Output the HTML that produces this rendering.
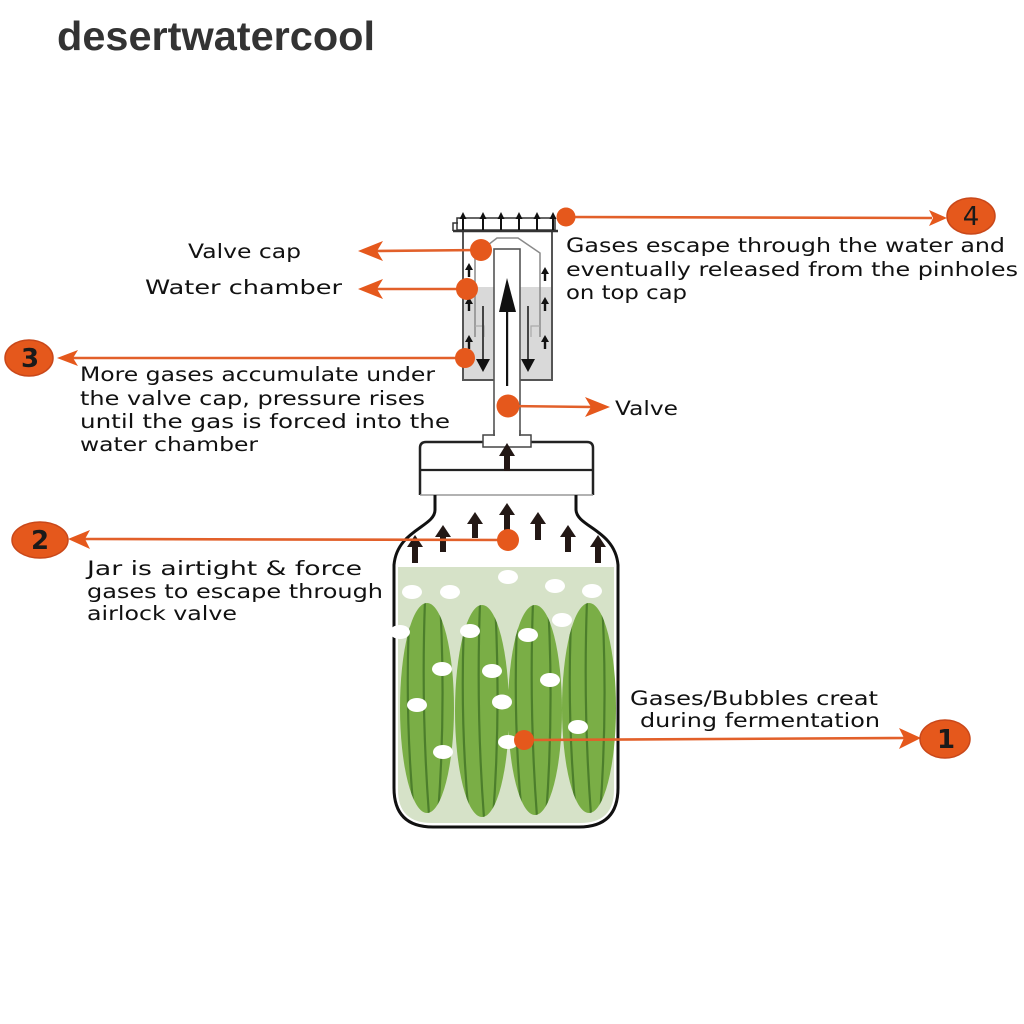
<!DOCTYPE html>
<html><head><meta charset="utf-8"><style>
html,body{margin:0;padding:0;background:#fff;}
svg{display:block;}
text{font-family:"DejaVu Sans","Liberation Sans",sans-serif;}
text.title{font-family:"Liberation Sans","DejaVu Sans",sans-serif;}
</style></head><body>
<svg width="1024" height="1024" viewBox="0 0 1024 1024" xmlns="http://www.w3.org/2000/svg">
<defs>
<clipPath id="c1"><ellipse cx="427" cy="708" rx="27" ry="105"/></clipPath>
<clipPath id="c2"><ellipse cx="482" cy="711" rx="27" ry="106"/></clipPath>
<clipPath id="c3"><ellipse cx="535" cy="710" rx="27" ry="105"/></clipPath>
<clipPath id="c4"><ellipse cx="589" cy="708" rx="27" ry="105"/></clipPath>
</defs>
<rect width="1024" height="1024" fill="#fff"/>

<!-- title -->
<text class="title" x="57" y="50" font-size="41" font-weight="bold" fill="#333" textLength="318" lengthAdjust="spacingAndGlyphs">desertwatercool</text>

<!-- ===== valve chamber ===== -->
<rect x="463" y="231" width="89" height="149" fill="#fff" stroke="#555" stroke-width="2"/>
<rect x="464" y="287" width="87" height="92" fill="#D9D9D9"/>
<path d="M475,337 L475,255 L497,238 L518,238 L540,253 L540,337" fill="none" stroke="#8a8a8a" stroke-width="1.5"/>
<path d="M475,326 L484,326 L484,337 M540,326 L531,326 L531,337" fill="none" stroke="#aaa" stroke-width="1.2"/>
<rect x="457" y="218" width="98" height="12" fill="#fff" stroke="#333" stroke-width="1.5"/>
<path d="M453,231 L558,231" stroke="#333" stroke-width="2.5"/>
<path d="M453,231 L453,223 L458,223" fill="none" stroke="#333" stroke-width="1.5"/>
<g fill="#111">
<g transform="translate(463,0)"><rect x="-1" y="217" width="2" height="13"/><polygon points="0,212 -3.5,219 3.5,219"/></g>
<g transform="translate(483,0)"><rect x="-1" y="217" width="2" height="13"/><polygon points="0,212 -3.5,219 3.5,219"/></g>
<g transform="translate(501,0)"><rect x="-1" y="217" width="2" height="13"/><polygon points="0,212 -3.5,219 3.5,219"/></g>
<g transform="translate(519,0)"><rect x="-1" y="217" width="2" height="13"/><polygon points="0,212 -3.5,219 3.5,219"/></g>
<g transform="translate(537,0)"><rect x="-1" y="217" width="2" height="13"/><polygon points="0,212 -3.5,219 3.5,219"/></g>
<g transform="translate(553,0)"><rect x="-1" y="217" width="2" height="13"/><polygon points="0,212 -3.5,219 3.5,219"/></g>
</g>
<rect x="494" y="249" width="26" height="190" fill="#fff" stroke="#555" stroke-width="1.6"/>
<rect x="506" y="300" width="2.2" height="86" fill="#111"/>
<polygon points="507,278 499,312 516,312" fill="#111"/>
<rect x="482" y="306" width="2" height="56" fill="#444"/>
<polygon points="476,359 490,359 483,372" fill="#111"/>
<rect x="527" y="306" width="2" height="56" fill="#444"/>
<polygon points="521,359 535,359 528,372" fill="#111"/>
<g fill="#111">
<g transform="translate(469,263)"><rect x="-1.2" y="5" width="2.4" height="9"/><polygon points="0,0 -4,7 4,7"/></g>
<g transform="translate(469,297)"><rect x="-1.2" y="5" width="2.4" height="9"/><polygon points="0,0 -4,7 4,7"/></g>
<g transform="translate(469,335)"><rect x="-1.2" y="5" width="2.4" height="9"/><polygon points="0,0 -4,7 4,7"/></g>
<g transform="translate(545,267)"><rect x="-1.2" y="5" width="2.4" height="9"/><polygon points="0,0 -4,7 4,7"/></g>
<g transform="translate(545,297)"><rect x="-1.2" y="5" width="2.4" height="9"/><polygon points="0,0 -4,7 4,7"/></g>
<g transform="translate(545,335)"><rect x="-1.2" y="5" width="2.4" height="9"/><polygon points="0,0 -4,7 4,7"/></g>
</g>

<!-- ===== lid ===== -->
<path d="M420,495 L420,448 Q420,442 426,442 L587,442 Q593,442 593,448 L593,495" fill="#fff" stroke="#222" stroke-width="2.5"/>
<path d="M420,470 L593,470" stroke="#222" stroke-width="2.2"/>
<path d="M420,495 L593,495" stroke="#999" stroke-width="1.5"/>
<rect x="483" y="435" width="48" height="12" fill="#fff" stroke="#444" stroke-width="1.5"/>
<rect x="495" y="430" width="24" height="10" fill="#fff"/>
<path d="M494,430 L494,436 M520,430 L520,436" stroke="#555" stroke-width="1.6"/>
<rect x="504" y="452" width="6" height="19" fill="#231815"/>
<polygon points="507,443 499,456 515,456" fill="#231815"/>

<!-- ===== jar ===== -->
<path d="M398,567 L614,567 L614,790 Q614,823 580,823 L432,823 Q398,823 398,790 Z" fill="#D6E2C8"/>
<path d="M435,495 L435,510 C435,527 397,530 394,565 L394,788 Q394,827 433,827 L579,827 Q618,827 618,788 L618,565 C615,530 577,527 576,510 L576,495" fill="none" stroke="#111" stroke-width="3"/>

<g>
<ellipse cx="427" cy="708" rx="27" ry="105" fill="#7AAE46"/>
<ellipse cx="482" cy="711" rx="27" ry="106" fill="#7AAE46"/>
<ellipse cx="535" cy="710" rx="27" ry="105" fill="#7AAE46"/>
<ellipse cx="589" cy="708" rx="27" ry="105" fill="#7AAE46"/>
<g fill="none" stroke="#4C7E2C" stroke-width="2.2">
<g clip-path="url(#c1)"><path d="M410,600 Q404,708 414,815 M425,600 Q421,708 429,815 M440,600 Q446,708 438,815"/></g>
<g clip-path="url(#c2)"><path d="M465,603 Q459,711 469,818 M480,603 Q476,711 484,818 M495,603 Q501,711 493,818"/></g>
<g clip-path="url(#c3)"><path d="M518,602 Q512,710 522,817 M533,602 Q529,710 537,817 M548,602 Q554,710 546,817"/></g>
<g clip-path="url(#c4)"><path d="M572,600 Q566,708 576,815 M587,600 Q583,708 591,815 M602,600 Q608,708 600,815"/></g>
</g>
</g>

<g fill="#fff">
<ellipse cx="508" cy="577" rx="10" ry="7"/>
<ellipse cx="412" cy="592" rx="10" ry="7"/>
<ellipse cx="450" cy="592" rx="10" ry="7"/>
<ellipse cx="555" cy="586" rx="10" ry="7"/>
<ellipse cx="592" cy="591" rx="10" ry="7"/>
<ellipse cx="400" cy="632" rx="10" ry="7"/>
<ellipse cx="470" cy="631" rx="10" ry="7"/>
<ellipse cx="528" cy="635" rx="10" ry="7"/>
<ellipse cx="562" cy="620" rx="10" ry="7"/>
<ellipse cx="442" cy="669" rx="10" ry="7"/>
<ellipse cx="492" cy="671" rx="10" ry="7"/>
<ellipse cx="550" cy="680" rx="10" ry="7"/>
<ellipse cx="417" cy="705" rx="10" ry="7"/>
<ellipse cx="502" cy="702" rx="10" ry="7.5"/>
<ellipse cx="578" cy="727" rx="10" ry="7"/>
<ellipse cx="443" cy="752" rx="10" ry="7"/>
<ellipse cx="508" cy="742" rx="10" ry="7"/>
</g>

<g fill="#231815">
<g transform="translate(415,535)"><rect x="-3" y="10" width="6" height="18"/><polygon points="0,0 -8,12 8,12"/></g>
<g transform="translate(443,525)"><rect x="-3" y="10" width="6" height="17"/><polygon points="0,0 -8,12 8,12"/></g>
<g transform="translate(475,512)"><rect x="-3" y="10" width="6" height="16"/><polygon points="0,0 -8,12 8,12"/></g>
<g transform="translate(507,503)"><rect x="-3" y="10" width="6" height="20"/><polygon points="0,0 -8,12 8,12"/></g>
<g transform="translate(538,512)"><rect x="-3" y="10" width="6" height="18"/><polygon points="0,0 -8,12 8,12"/></g>
<g transform="translate(568,525)"><rect x="-3" y="10" width="6" height="17"/><polygon points="0,0 -8,12 8,12"/></g>
<g transform="translate(598,535)"><rect x="-3" y="10" width="6" height="18"/><polygon points="0,0 -8,12 8,12"/></g>
</g>

<!-- ===== orange callouts ===== -->
<g stroke="#E2602A" stroke-width="2.6" fill="none">
<path d="M481,250 L375,251"/>
<path d="M467,289 L375,289"/>
<path d="M465,358 L72,358"/>
<path d="M566,217 L932,218"/>
<path d="M508,406 L592,407"/>
<path d="M508,540 L84,539"/>
<path d="M524,740 L906,738"/>
</g>
<g fill="#E5581C">
<path d="M358,251 L383,241 L377,251 L383,261 Z"/>
<path d="M358,289 L383,279 L377,289 L383,299 Z"/>
<path d="M57,358 L78,350 L73,358 L78,366 Z"/>
<path d="M947,218 L929,210 L933,218 L929,226 Z"/>
<path d="M610,407 L585,397 L591,407 L585,417 Z"/>
<path d="M68,539 L90,530 L85,539 L90,549 Z"/>
<path d="M921,738 L899,728 L904,738 L899,749 Z"/>
<circle cx="481" cy="250" r="11"/>
<circle cx="467" cy="289" r="11"/>
<circle cx="465" cy="358" r="10"/>
<circle cx="566" cy="217" r="9.5"/>
<circle cx="508" cy="406" r="11.5"/>
<circle cx="508" cy="540" r="11"/>
<circle cx="524" cy="740" r="10"/>
</g>
<g fill="#E5581C" stroke="#C9481A" stroke-width="1.5">
<ellipse cx="29" cy="358" rx="24" ry="18"/>
<ellipse cx="971" cy="216" rx="24" ry="18"/>
<ellipse cx="40" cy="540" rx="28" ry="18"/>
<ellipse cx="945" cy="739" rx="25" ry="19"/>
</g>
<g fill="#1a1a1a" font-size="26" font-weight="bold" text-anchor="middle">
<text x="30" y="367">3</text>
<text x="971" y="225" font-weight="normal">4</text>
<text x="40" y="549">2</text>
<text x="946" y="748">1</text>
</g>

<g fill="#111" font-size="19.5">
<text x="188" y="258" textLength="113" lengthAdjust="spacingAndGlyphs">Valve cap</text>
<text x="145" y="294" textLength="197" lengthAdjust="spacingAndGlyphs">Water chamber</text>
<text x="80" y="381" textLength="355" lengthAdjust="spacingAndGlyphs">More gases accumulate under</text>
<text x="80" y="405" textLength="345" lengthAdjust="spacingAndGlyphs">the valve cap, pressure rises</text>
<text x="80" y="428" textLength="370" lengthAdjust="spacingAndGlyphs">until the gas is forced into the</text>
<text x="80" y="451" textLength="178" lengthAdjust="spacingAndGlyphs">water chamber</text>
<text x="566" y="252" textLength="439" lengthAdjust="spacingAndGlyphs">Gases escape through the water and</text>
<text x="566" y="276" textLength="452" lengthAdjust="spacingAndGlyphs">eventually released from the pinholes</text>
<text x="566" y="299" textLength="121" lengthAdjust="spacingAndGlyphs">on top cap</text>
<text x="615" y="415" textLength="63" lengthAdjust="spacingAndGlyphs">Valve</text>
<text x="87" y="575" textLength="275" lengthAdjust="spacingAndGlyphs">Jar is airtight &amp; force</text>
<text x="87" y="598" textLength="296" lengthAdjust="spacingAndGlyphs">gases to escape through</text>
<text x="87" y="620" textLength="150" lengthAdjust="spacingAndGlyphs">airlock valve</text>
<text x="630" y="705" textLength="248" lengthAdjust="spacingAndGlyphs">Gases/Bubbles creat</text>
<text x="640" y="727" textLength="240" lengthAdjust="spacingAndGlyphs">during fermentation</text>
</g>
</svg>
</body></html>
